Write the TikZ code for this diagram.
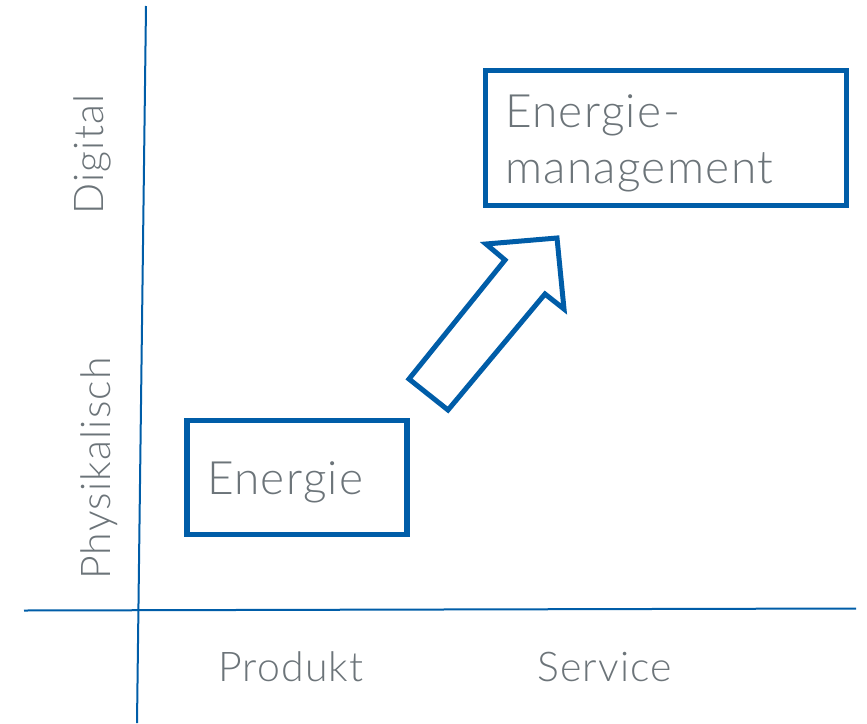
\documentclass[tikz,border=0pt]{standalone}
\usepackage{fontspec}
\setmainfont{Lato}[UprightFont=* Light, LetterSpace=3]
\usepackage{xcolor}
\usepackage{tikz}
\usetikzlibrary{positioning,%
  calc,%
  shapes
}
\definecolor{achsblau}{RGB}{0,93,168}
\definecolor{textgrau}{RGB}{108,116,121}

\begin{document}
\begin{tikzpicture}[x=1pt,y=-1pt,
    achse/.style={draw=achsblau, line width=2pt},
    kasten/.style={draw=achsblau, line width=5.5pt, text=textgrau, align=left,
      font=\fontsize{46}{56}\selectfont},
    beschr/.style={text=textgrau, inner sep=0pt, font=\fontsize{41}{48}\selectfont}]
            \useasboundingbox (0,0) rectangle (867,723);

            % Achsen
            \coordinate (xl) at (24,610.5);
            \coordinate (xr) at (856,608.5);
            \coordinate (yo) at (146,6);
            \coordinate (yu) at (137,723);
            \draw [achse] (xl) -- (xr);
            \draw [achse] (yo) -- (yu);

            % Beschriftung
            \node [beschr, anchor=base west] (produkt) at (218,681) {Produkt};
            \node [beschr, anchor=base west] (service) at (537,681) {Service};
            \node [beschr, anchor=base west, rotate=90] (digital) at (103,215) {Digital};
            \node [beschr, anchor=base west, rotate=90] (physik) at (110,580) {Physikalisch};

            % Kaesten
            \node [kasten, minimum width=220pt, minimum height=114pt, inner xsep=20pt,
                   text width=180pt, text height=33pt, text depth=0pt] (energie) at (297,477.5) {Energie};
            \node [kasten, minimum width=361pt, minimum height=135pt, inner xsep=19.5pt,
                   text width=322pt, text height=34pt, text depth=56pt] (management) at (666,138) {Energie-\\management};

            % Pfeil
            \draw [draw=achsblau, line width=5pt, line join=miter]
              (409,379) -- (448,410) -- (545,294) -- (564,309) -- (557,238) -- (486,244) -- (505,260) -- cycle;
\end{tikzpicture}
\end{document}
